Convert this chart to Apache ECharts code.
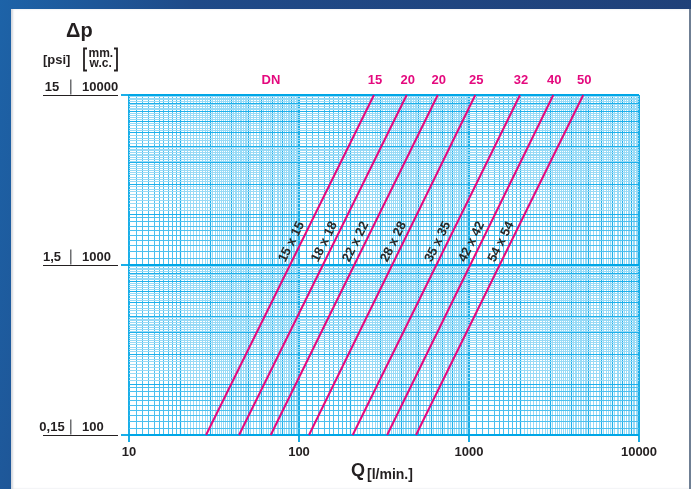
<!DOCTYPE html>
<html><head><meta charset="utf-8">
<script src="https://cdn.jsdelivr.net/npm/echarts@6/dist/echarts.min.js"></script>
<style>
html,body{margin:0;padding:0;}
#bg{position:absolute;left:0;top:0;width:691px;height:489px;background:linear-gradient(100deg,#1d63a8 0%,#1f4a88 25%,#203f76 100%);}
#panel{position:absolute;left:11px;top:9px;width:678px;height:480px;background:#fff;border-right:2px solid #6f7f94;box-shadow:inset 2px 0 2px #d5d9df;}
#chart{position:absolute;left:0;top:0;width:691px;height:489px;}
</style></head>
<body>
<div id="bg"></div><div id="panel"></div><div id="chart"></div>
<script>
// ---- data ----
const xDecadeStarts = [10, 100, 1000];
const xMax = 10000;
const xTicks = [10, 100, 1000, 10000];
const xTickLabels = ['10', '100', '1000', '10000'];
const yDecadeStarts = [100, 1000];
const yMax = 10000;
const mmTicks = [100, 1000, 10000];
const mmTickLabels = ['100', '1000', '10000'];
const psiTickLabels = ['0,15', '1,5', '15'];
const pipeSizes = ['15 x 15', '18 x 18', '22 x 22', '28 x 28', '35 x 35', '42 x 42', '54 x 54'];
const dnLabels = ['15', '20', '20', '25', '32', '40', '50'];
const qAtLow = [28.4, 44.4, 68.2, 114.5, 207, 330, 488];      // Q [l/min] at Δp = 100 mm w.c.
const qAtHigh = [276, 430, 655, 1089, 1995, 3133, 4699];      // Q [l/min] at Δp = 10000 mm w.c.
const dpLow = 100, dpHigh = 10000;
const labelDp = 1365;

// ---- styles ----
const FONT = '"Liberation Sans", Arial, Helvetica, sans-serif';
const TXT = '#231f20';
const MAG = '#e4097e';
const gridStyles = {
  minor: {color: '#98daf6', width: 1},
  mid:   {color: '#4cc0ef', width: 1},
  int:   {color: '#1cb0eb', width: 1.2},
  major: {color: '#00a6e6', width: 1.8}
};
const order = ['minor', 'mid', 'int', 'major'];
function gridLines(starts, last, dim) {
  const items = [];
  starts.forEach(b => {
    items.push({v: b, k: 'major'});
    for (let i = 11; i <= 99; i++) {
      let k = null;
      if (i % 10 === 0) k = 'int';
      else if (i < 20) k = 'mid';
      else if (i < 50) k = 'minor';
      else if (i % 2 === 0) k = 'minor';
      if (k) items.push({v: b * i / 10, k: k});
    }
  });
  items.push({v: last, k: 'major'});
  items.sort((a, b) => order.indexOf(a.k) - order.indexOf(b.k));
  return items.map(it => ({[dim]: it.v, lineStyle: Object.assign({type: 'solid'}, gridStyles[it.k])}));
}

function logInterp(q0, q1, dp) {
  const t = (Math.log10(dp) - Math.log10(dpLow)) / (Math.log10(dpHigh) - Math.log10(dpLow));
  return Math.pow(10, Math.log10(q0) + t * (Math.log10(q1) - Math.log10(q0)));
}
function lookup(ticks, labels, v) {
  let best = 0;
  ticks.forEach((t, i) => { if (Math.abs(Math.log10(t) - Math.log10(v)) < Math.abs(Math.log10(ticks[best]) - Math.log10(v))) best = i; });
  return labels[best];
}

const series = [{
  type: 'line', data: [[10, 100]], showSymbol: false, symbol: 'none', silent: true, z: 1,
  lineStyle: {opacity: 0},
  markLine: {
    silent: true, symbol: ['none', 'none'], label: {show: false}, animation: false,
    emphasis: {disabled: true},
    data: gridLines(xDecadeStarts, xMax, 'xAxis').concat(gridLines(yDecadeStarts, yMax, 'yAxis'))
  }
}];
pipeSizes.forEach((name, i) => {
  const q0 = qAtLow[i], q1 = qAtHigh[i];
  series.push({
    type: 'line', name: name, z: 5, silent: true, showSymbol: false, symbol: 'none',
    data: [[q0, dpLow], [q1, dpHigh]],
    lineStyle: {color: MAG, width: 2},
    markPoint: {
      symbol: 'circle', symbolSize: 0, silent: true, animation: false,
      data: [
        {coord: [q1, dpHigh], label: {show: true, position: 'inside', formatter: dnLabels[i], offset: [1, -15],
          color: MAG, fontFamily: FONT, fontWeight: 'bold', fontSize: 13}},
        {coord: [logInterp(q0, q1, labelDp), labelDp], label: {show: true, position: 'inside', formatter: name,
          rotate: 63.5, offset: [-4.2, -8.8], color: '#2b2a29', fontFamily: FONT, fontWeight: 'bold', fontSize: 13}}
      ]
    }
  });
});

const chart = echarts.init(document.getElementById('chart'), null, {renderer: 'canvas'});
chart.setOption({
  animation: false,
  backgroundColor: 'transparent',
  grid: {left: 129, top: 95, width: 510, height: 340, show: false},
  xAxis: {
    type: 'log', logBase: 10, min: 10, max: xMax,
    axisLine: {show: false},
    axisTick: {show: true, length: 7, lineStyle: {color: '#00a6e6', width: 1.8}},
    splitLine: {show: false},
    axisLabel: {color: TXT, fontFamily: FONT, fontWeight: 'bold', fontSize: 13, margin: 11,
      formatter: v => lookup(xTicks, xTickLabels, v)}
  },
  yAxis: [{
    type: 'log', logBase: 10, min: 100, max: yMax, position: 'left',
    axisLine: {show: false},
    axisTick: {show: true, length: 8, lineStyle: {color: '#00a6e6', width: 1.8}},
    splitLine: {show: false},
    axisLabel: {
      margin: 59, align: 'left', verticalAlign: 'middle', padding: [0, 0, 16, 0],
      formatter: v => '{bar|}{v|' + lookup(mmTicks, mmTickLabels, v) + '}',
      rich: {
        bar: {width: 1.5, height: 15, backgroundColor: '#6d6e71'},
        v: {color: TXT, fontFamily: FONT, fontWeight: 'bold', fontSize: 13, lineHeight: 15, padding: [0, 0, 0, 10.5]}
      }
    }
  }, {
    type: 'log', logBase: 10, min: 100, max: yMax, position: 'left', offset: 11,
    axisLine: {show: false},
    axisTick: {show: true, length: 75, lineStyle: {color: TXT, width: 1.2}},
    splitLine: {show: false},
    axisLabel: {
      margin: 66, align: 'center', verticalAlign: 'middle', padding: [0, 0, 16, 0],
      formatter: v => '{p|' + lookup(mmTicks, psiTickLabels, v) + '}',
      rich: {
        p: {color: TXT, fontFamily: FONT, fontWeight: 'bold', fontSize: 13, lineHeight: 15, height: 15}
      }
    }
  }],
  graphic: [
    {type: 'text', x: 66, y: 31, style: {text: 'Δp', font: 'bold 20px ' + FONT, fill: TXT, verticalAlign: 'middle'}},
    {type: 'text', x: 43, y: 60, style: {text: '[psi]', font: 'bold 13px ' + FONT, fill: TXT, verticalAlign: 'middle'}},
    {type: 'text', x: 88.5, y: 53.5, style: {text: 'mm.', font: 'bold 12px ' + FONT, fill: TXT, verticalAlign: 'middle'}},
    {type: 'text', x: 89.5, y: 64, style: {text: 'w.c.', font: 'bold 12px ' + FONT, fill: TXT, verticalAlign: 'middle'}},
    {type: 'polyline', shape: {points: [[87, 48.5], [84, 48.5], [84, 70.5], [87, 70.5]]}, style: {stroke: TXT, lineWidth: 1.8, fill: null}},
    {type: 'polyline', shape: {points: [[114, 48.5], [117, 48.5], [117, 70.5], [114, 70.5]]}, style: {stroke: TXT, lineWidth: 1.8, fill: null}},
    {type: 'text', x: 271, y: 80, style: {text: 'DN', font: 'bold 13px ' + FONT, fill: MAG, align: 'center', verticalAlign: 'middle'}},
    {type: 'text', x: 351, y: 471, style: {text: 'Q', font: 'bold 18px ' + FONT, fill: TXT, verticalAlign: 'middle'}},
    {type: 'text', x: 367, y: 475, style: {text: '[l/min.]', font: 'bold 14px ' + FONT, fill: TXT, verticalAlign: 'middle'}}
  ],
  series: series
});
</script>
</body></html>
